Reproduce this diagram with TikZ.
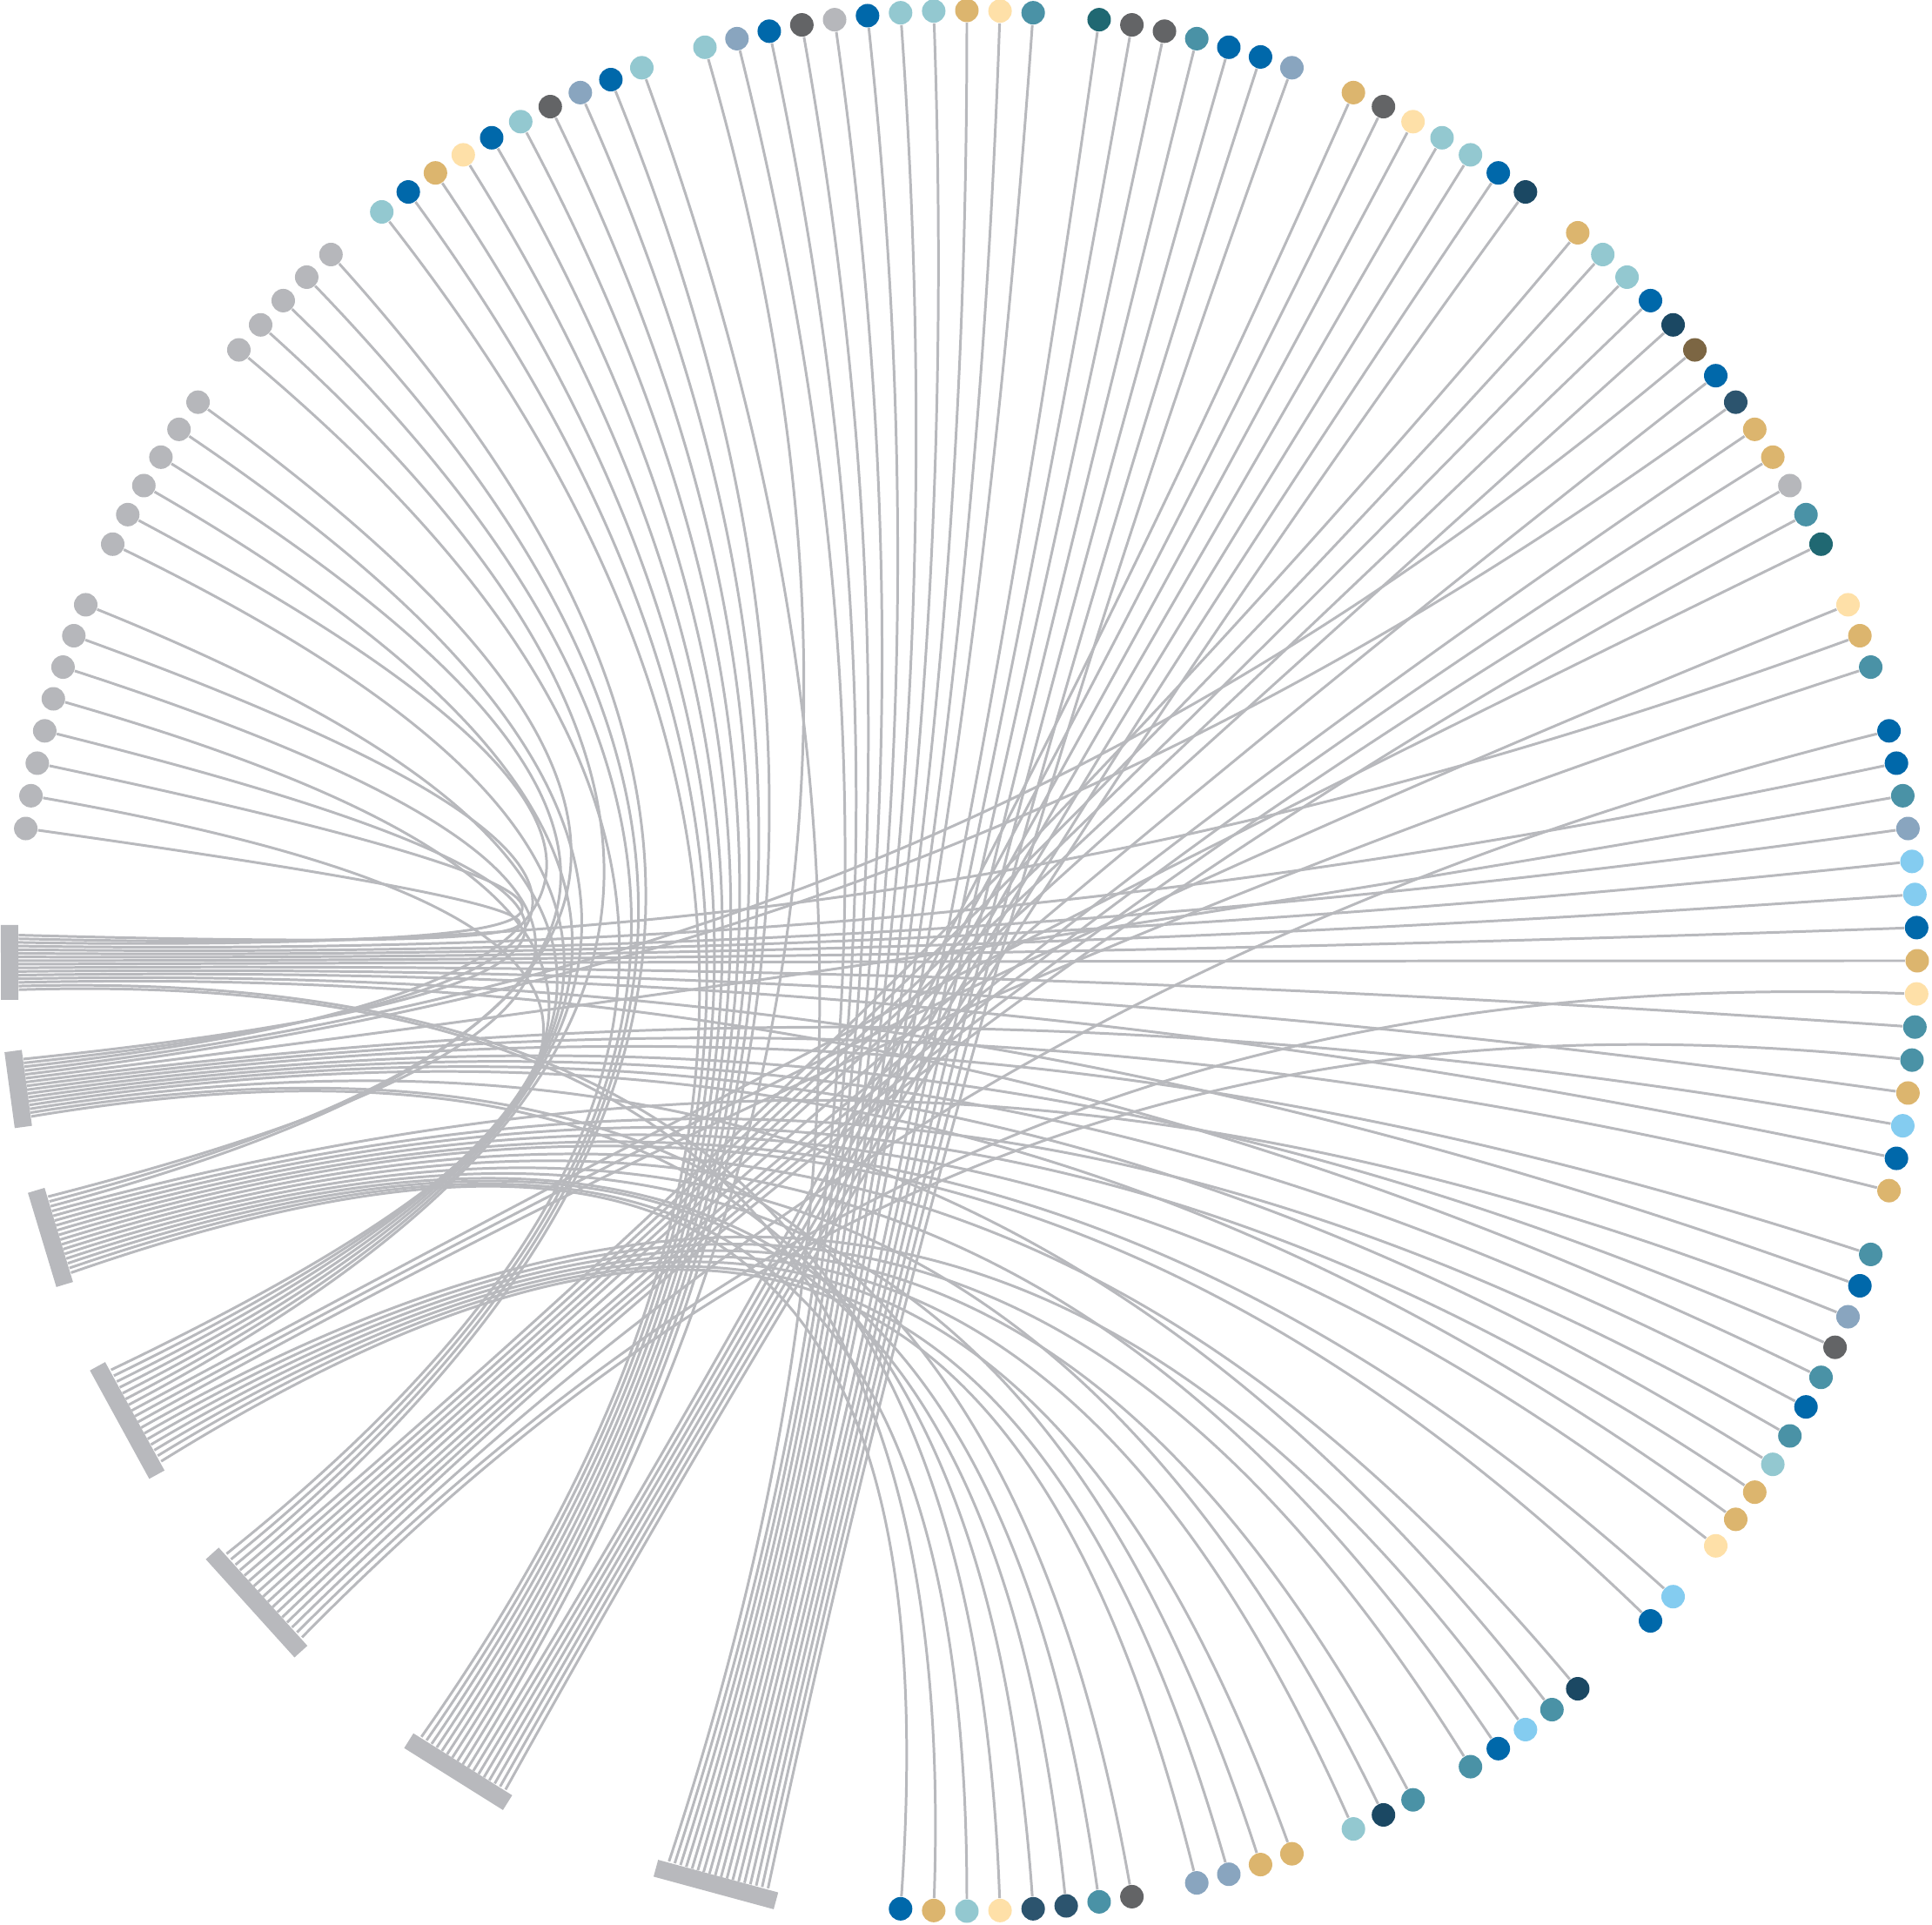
\documentclass[tikz,border=0pt]{standalone}
\usepackage{xcolor}
\usepackage{tikz}
\usetikzlibrary{calc}
\definecolor{linkgray}{RGB}{184,185,189}
\definecolor{dotgray}{RGB}{182,183,187}
\definecolor{dotdgray}{RGB}{99,100,102}
\definecolor{dotlteal}{RGB}{147,200,208}
\definecolor{dotteal}{RGB}{74,146,166}
\definecolor{dotdteal}{RGB}{32,104,114}
\definecolor{dotblue}{RGB}{0,104,170}
\definecolor{dotsky}{RGB}{132,204,240}
\definecolor{dotsteel}{RGB}{137,165,191}
\definecolor{dotnavy}{RGB}{27,72,99}
\definecolor{dotslate}{RGB}{44,84,110}
\definecolor{dotgold}{RGB}{220,181,110}
\definecolor{dotcream}{RGB}{254,224,168}
\definecolor{dotbrown}{RGB}{124,102,67}
\pgfdeclarelayer{links}
\pgfsetlayers{links,main}

\begin{document}
\begin{tikzpicture}[
    dot/.style  = {circle, inner sep=0pt, minimum size=2.7mm, fill=#1},
    bar/.style  = {fill=linkgray, inner sep=0pt, minimum width=2mm, minimum height=#1},
    link/.style = {draw=linkgray, line width=0.85pt},
  ]
  \useasboundingbox (-11.11,-11.07) rectangle (11.09,11.04);
  \coordinate (ctr) at (0,0);

  \foreach \da/\col in {
      172/dotgray,170/dotgray,168/dotgray,166/dotgray,164/dotgray,162/dotgray,160/dotgray,158/dotgray,
      154/dotgray,152/dotgray,150/dotgray,148/dotgray,146/dotgray,144/dotgray,
      140/dotgray,138/dotgray,136/dotgray,134/dotgray,132/dotgray,
      128/dotlteal,126/dotblue,124/dotgold,122/dotcream,120/dotblue,118/dotlteal,116/dotdgray,114/dotsteel,112/dotblue,110/dotlteal,
      106/dotlteal,104/dotsteel,102/dotblue,100/dotdgray,98/dotgray,96/dotblue,94/dotlteal,92/dotlteal,90/dotgold,88/dotcream,86/dotteal,
      82/dotdteal,80/dotdgray,78/dotdgray,76/dotteal,74/dotblue,72/dotblue,70/dotsteel,
      66/dotgold,64/dotdgray,62/dotcream,60/dotlteal,58/dotlteal,56/dotblue,54/dotnavy,
      50/dotgold,48/dotlteal,46/dotlteal,44/dotblue,42/dotnavy,40/dotbrown,38/dotblue,36/dotslate,34/dotgold,32/dotgold,30/dotgray,28/dotteal,26/dotdteal,
      22/dotcream,20/dotgold,18/dotteal,
      14/dotblue,12/dotblue,10/dotteal,8/dotsteel,6/dotsky,4/dotsky,2/dotblue,0/dotgold,-2/dotcream,-4/dotteal,-6/dotteal,-8/dotgold,-10/dotsky,-12/dotblue,-14/dotgold,
      -18/dotteal,-20/dotblue,-22/dotsteel,-24/dotdgray,-26/dotteal,-28/dotblue,-30/dotteal,-32/dotlteal,-34/dotgold,-36/dotgold,-38/dotcream,
      -42/dotsky,-44/dotblue,
      -50/dotnavy,-52/dotteal,-54/dotsky,-56/dotblue,-58/dotteal,
      -62/dotteal,-64/dotnavy,-66/dotlteal,
      -70/dotgold,-72/dotgold,-74/dotsteel,-76/dotsteel,
      -80/dotdgray,-82/dotteal,-84/dotslate,-86/dotslate,-88/dotcream,-90/dotlteal,-92/dotgold,-94/dotblue}
    \node[dot=\col] (d\da) at (\da:10.92) {};

  \foreach \bi/\ba/\bl/\bs/\bn/\ends in {
      1/180.1/0.86/3.3/16/{172,168,20,12,8,6,4,2,0,-4,-8,-12,-20,-26,-88,-92},
      2/187.7/0.88/3.5/16/{166,160,152,40,36,10,-10,-14,-18,-24,-28,-32,-36,-52,-80,-86},
      3/196.8/1.13/4.8/17/{162,148,144,-22,-30,-34,-38,-42,-44,-50,-56,-64,-72,-82,-84,-90,-94},
      4/208.7/1.42/6.3/17/{170,164,158,154,150,146,138,26,22,18,-54,-58,-62,-66,-70,-74,-76},
      5/222.1/1.52/6.8/17/{140,136,134,132,50,48,46,44,42,38,34,32,30,28,14,-2,-6},
      6/237.9/1.34/6.0/17/{128,126,124,122,120,118,116,114,112,106,66,64,62,60,58,56,54},
      7/254.8/1.43/6.2/18/{110,104,102,100,98,96,94,92,90,88,86,82,80,78,76,74,72,70}} {
    \node[bar=\bl cm, rotate=\ba] (bar\bi) at (\ba:11) {};
    \foreach \tg [count=\li] in \ends {
      \pgfmathsetmacro\pos{\ba-\bs/2+(\li-1)*\bs/(\bn-1)}
      \coordinate (b\bi-\li) at (\pos:10.9);
      \begin{pgfonlayer}{links}
        \draw[link] (d\tg) .. controls ($(ctr)!0.3!(d\tg)$) and ($(ctr)!0.3!(b\bi-\li)$) .. (b\bi-\li);
      \end{pgfonlayer}
    }
  }
\end{tikzpicture}
\end{document}
